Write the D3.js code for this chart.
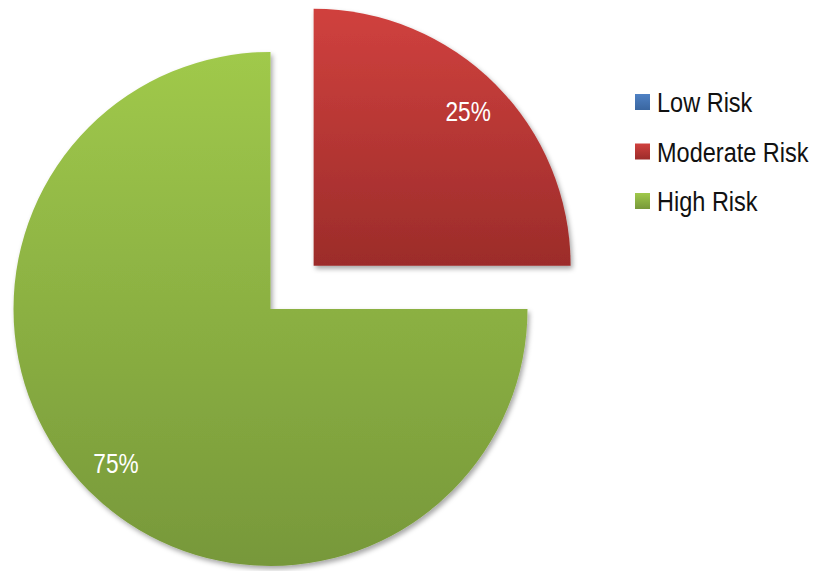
<!DOCTYPE html>
<html>
<head>
<meta charset="utf-8">
<script src="https://cdn.jsdelivr.net/npm/d3@7"></script>
<style>
  html, body { margin: 0; padding: 0; background: #fff; }
  svg { display: block; }
  .lbl, .leg { font-family: "Liberation Sans Narrow", "Arial Narrow", "Liberation Sans", Arial, sans-serif; }
</style>
</head>
<body>
<svg id="chart" width="815" height="571"></svg>
<script>
// Risk distribution
const categories = ["Low Risk", "Moderate Risk", "High Risk"];
const values = [0, 25, 75];
const pctLabels = ["0%", "25%", "75%"];
// gradient stops per category: [top, bottom]
const colorTop = ["#4f81c4", "#d0413e", "#a0c94b"];
const colorBottom = ["#3a66a0", "#9c2c2a", "#77983a"];
const explode = [0, 61, 0];

const W = 815, H = 571;
const cx = 270.5, cy = 309, R = 257;
const narrow = 0.84; // horizontal condensing of the sans face

const svg = d3.select("#chart");
const defs = svg.append("defs");

categories.forEach((c, i) => {
  const g = defs.append("linearGradient")
    .attr("id", "grad" + i)
    .attr("x1", 0).attr("y1", 0).attr("x2", 0).attr("y2", 1);
  g.append("stop").attr("offset", "0%").attr("stop-color", colorTop[i]);
  g.append("stop").attr("offset", "100%").attr("stop-color", colorBottom[i]);
});

const shadow = defs.append("filter").attr("id", "shadow")
  .attr("x", "-10%").attr("y", "-10%").attr("width", "125%").attr("height", "125%");
shadow.append("feDropShadow")
  .attr("dx", 2).attr("dy", 3).attr("stdDeviation", 2.5)
  .attr("flood-color", "#000").attr("flood-opacity", 0.35);

const pie = d3.pie().sort(null).value(d => d)(values);
const arc = d3.arc().innerRadius(0).outerRadius(R);
const labelArc = d3.arc().innerRadius(R * 0.85).outerRadius(R * 0.85);

const g = svg.append("g").attr("transform", `translate(${cx},${cy})`);

const slices = g.selectAll("g.slice")
  .data(pie.filter(d => d.value > 0))
  .join("g")
  .attr("class", "slice")
  .attr("transform", d => {
    const mid = (d.startAngle + d.endAngle) / 2;
    const e = explode[d.index];
    return `translate(${Math.sin(mid) * e},${-Math.cos(mid) * e})`;
  });

slices.append("path")
  .attr("d", arc)
  .attr("fill", d => `url(#grad${d.index})`)
  .attr("filter", "url(#shadow)");

slices.append("text")
  .attr("class", "lbl")
  .attr("transform", d => `translate(${labelArc.centroid(d)}) scale(${narrow},1)`)
  .attr("text-anchor", "middle")
  .attr("dy", "0.36em")
  .attr("fill", "#fff")
  .attr("font-size", 27)
  .text(d => pctLabels[d.index]);

// Legend
const legY = d3.scalePoint().domain(categories).range([102, 201]);
const leg = svg.append("g").selectAll("g")
  .data(categories)
  .join("g")
  .attr("transform", d => `translate(635,${legY(d)})`);

leg.append("rect")
  .attr("x", 0).attr("y", -8).attr("width", 15).attr("height", 16)
  .attr("fill", (d, i) => `url(#grad${i})`);

leg.append("text")
  .attr("class", "leg")
  .attr("transform", `translate(22,0) scale(${narrow},1)`)
  .attr("dy", "0.36em")
  .attr("font-size", 28)
  .attr("fill", "#111")
  .text(d => d);
</script>
</body>
</html>
